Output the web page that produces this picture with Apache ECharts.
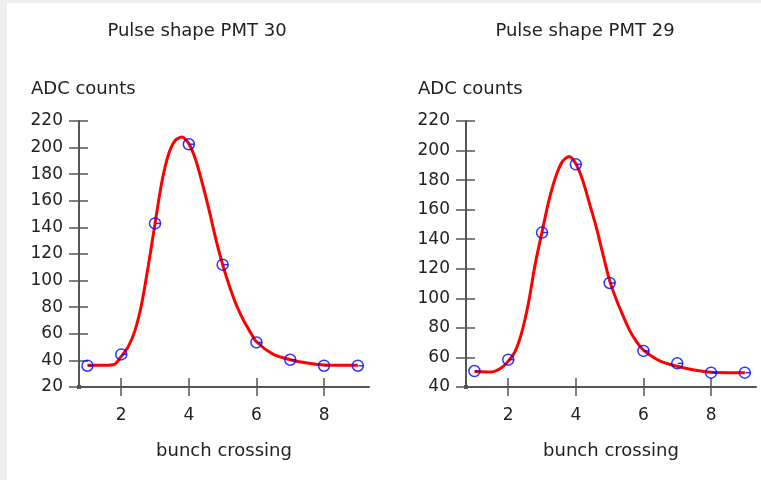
<!DOCTYPE html>
<html lang="en" style="height: 100%">
<head>
  <meta charset="utf-8">
</head>
<body style="height: 100%; margin: 0">
  <div id="container" style="width: 761px; height: 480px"></div>

<script type="text/javascript" src="https://cdn.jsdelivr.net/npm/echarts@6/dist/echarts.min.js"></script>

<script type="text/javascript">
var dom = document.getElementById('container');
var myChart = echarts.init(dom, null, { renderer: 'canvas' });

// measured samples (bunch crossing 1..9)
var bunchCrossing = [1, 2, 3, 4, 5, 6, 7, 8, 9];
var adcPmt30 = [36, 44.5, 143, 202.5, 112, 53.5, 40.5, 36, 36];
var adcPmt29 = [50.8, 58.5, 144.5, 190.7, 110.4, 64.4, 56, 49.7, 49.7];

// fitted pulse shape
var fitX = [1, 1.5, 1.8, 2, 2.2, 2.4, 2.6, 2.8, 3, 3.2, 3.4, 3.6, 3.8, 4, 4.2, 4.4, 4.6, 4.8, 5, 5.2, 5.4, 5.6, 5.8, 6, 6.5, 7, 7.5, 8, 9];
var fitPmt30 = [36.3, 36.3, 37, 43, 50, 62, 82, 111, 143, 174, 195, 205.5, 208, 203, 191, 173, 153, 131, 112, 96, 82, 71, 62, 54, 44.5, 40.5, 38, 36.5, 36.3];
var fitPmt29 = [50.5, 50.2, 53, 57.5, 64, 77, 97, 123.5, 145, 166, 182, 192.5, 196, 191, 180, 164.5, 148.5, 130, 112, 99, 88, 78, 70.5, 65, 57.5, 54, 51.5, 50, 49.7];

var xTicks = [2, 4, 6, 8];
var titles = ['Pulse shape PMT 30', 'Pulse shape PMT 29'];
var yMin = [20, 40];

var font = 'DejaVu Sans';
var axisColor = '#555';

function pairs(xs, ys) {
  return xs.map(function (x, i) { return [x, ys[i]]; });
}

function xAxes(g) {
  return [
    {
      type: 'value', gridIndex: g, position: 'bottom', min: 0.75, max: 9.33,
      name: 'bunch crossing', nameLocation: 'middle', nameGap: 55,
      nameTextStyle: { color: '#222', fontFamily: font, fontSize: 18 },
      axisLine: { onZero: false, symbol: ['rect', 'none'], symbolSize: [4, 4], lineStyle: { color: axisColor, width: 2 } },
      axisTick: { customValues: xTicks, length: 9, lineStyle: { color: axisColor, width: 1.5 } },
      axisLabel: { customValues: xTicks, margin: 20, color: '#222', fontFamily: font, fontSize: 17 },
      splitLine: { show: false }
    },
    {
      type: 'value', gridIndex: g, position: 'bottom', min: 0.75, max: 9.33,
      axisLine: { show: false },
      axisTick: { customValues: xTicks, inside: true, length: 9, lineStyle: { color: axisColor, width: 1.5 } },
      axisLabel: { show: false },
      splitLine: { show: false }
    }
  ];
}

function yAxes(g) {
  return [
    {
      type: 'value', gridIndex: g, position: 'left', min: yMin[g], max: 220, interval: 20,
      axisLine: { show: true, onZero: false, lineStyle: { color: axisColor, width: 2 } },
      axisTick: { show: true, length: 10, lineStyle: { color: axisColor, width: 1.5 } },
      axisLabel: { margin: 16, color: '#222', fontFamily: font, fontSize: 17 },
      splitLine: { show: false }
    },
    {
      type: 'value', gridIndex: g, position: 'left', min: yMin[g], max: 220, interval: 20,
      axisLine: { show: false },
      axisTick: { show: true, inside: true, length: 9, lineStyle: { color: axisColor, width: 1.5 } },
      axisLabel: { show: false },
      splitLine: { show: false }
    }
  ];
}

function fitSeries(g, ys) {
  return {
    type: 'line', xAxisIndex: g * 2, yAxisIndex: g * 2,
    data: pairs(fitX, ys), smooth: 0.25, showSymbol: false,
    lineStyle: { color: '#ff0000', width: 3 }, z: 2, silent: true
  };
}

function pointSeries(g, ys) {
  return {
    type: 'scatter', xAxisIndex: g * 2, yAxisIndex: g * 2,
    data: pairs(bunchCrossing, ys), symbol: 'circle', symbolSize: 11,
    itemStyle: { color: 'transparent', borderColor: '#0000ff', borderWidth: 1.5 }, z: 3
  };
}

// short dash inside each marker, as in the original
function dashSeries(g, ys) {
  return {
    type: 'scatter', xAxisIndex: g * 2, yAxisIndex: g * 2,
    data: pairs(bunchCrossing, ys), symbol: 'rect', symbolSize: [5, 1.5], symbolOffset: [3, 0],
    itemStyle: { color: '#0000ff' }, z: 3, silent: true
  };
}

var option = {
  backgroundColor: '#ffffff',
  animation: false,
  graphic: [
    { type: 'rect', shape: { x: 0, y: 0, width: 761, height: 3 }, style: { fill: '#eeeeee' }, silent: true },
    { type: 'rect', shape: { x: 0, y: 0, width: 7, height: 480 }, style: { fill: '#eeeeee' }, silent: true }
  ],
  title: [
    { text: titles[0], left: 197, top: 22, textAlign: 'center', padding: 0, textStyle: { color: '#222', fontFamily: font, fontSize: 18, fontWeight: 'normal' } },
    { text: titles[1], left: 585, top: 22, textAlign: 'center', padding: 0, textStyle: { color: '#222', fontFamily: font, fontSize: 18, fontWeight: 'normal' } },
    { text: 'ADC counts', left: 31, top: 80, padding: 0, textStyle: { color: '#222', fontFamily: font, fontSize: 18, fontWeight: 'normal' } },
    { text: 'ADC counts', left: 418, top: 80, padding: 0, textStyle: { color: '#222', fontFamily: font, fontSize: 18, fontWeight: 'normal' } }
  ],
  grid: [
    { left: 79, top: 121, width: 290, height: 266, containLabel: false },
    { left: 466, top: 121, width: 290, height: 266, containLabel: false }
  ],
  xAxis: xAxes(0).concat(xAxes(1)),
  yAxis: yAxes(0).concat(yAxes(1)),
  series: [
    fitSeries(0, fitPmt30),
    pointSeries(0, adcPmt30),
    dashSeries(0, adcPmt30),
    fitSeries(1, fitPmt29),
    pointSeries(1, adcPmt29),
    dashSeries(1, adcPmt29)
  ]
};

myChart.setOption(option);
window.addEventListener('resize', myChart.resize);
</script>
</body>
</html>
